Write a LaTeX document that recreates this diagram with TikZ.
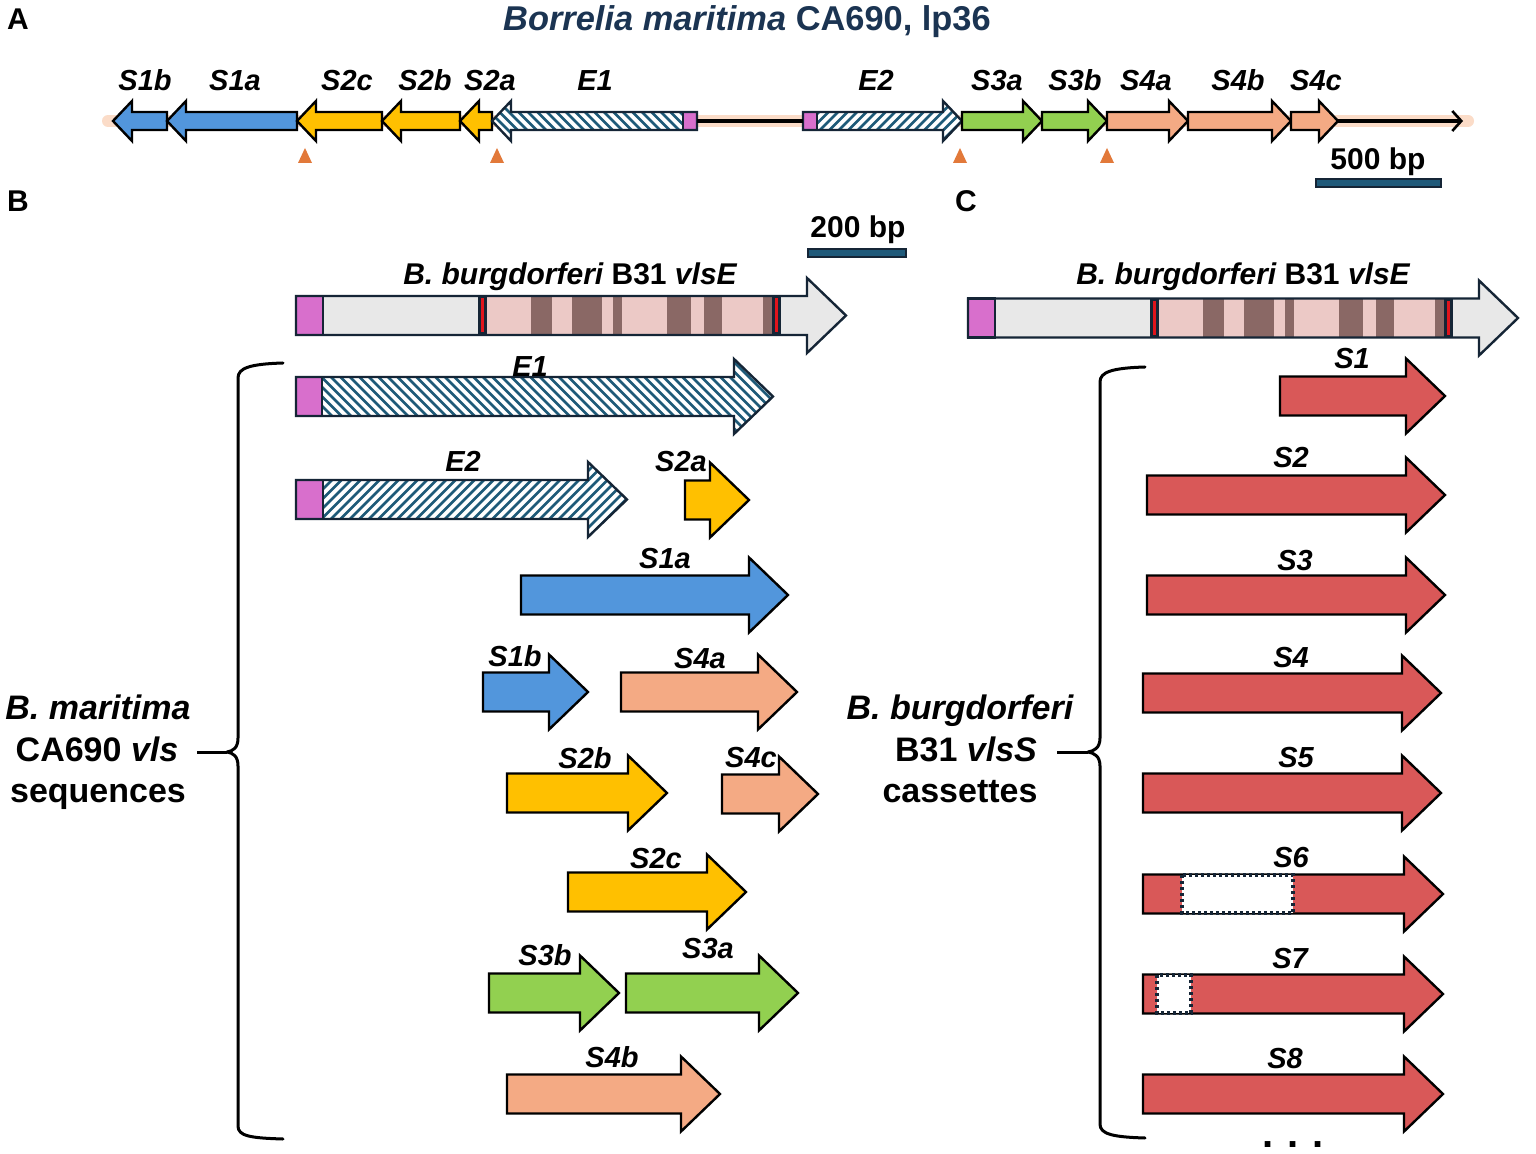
\documentclass[tikz,border=0pt]{standalone}
\usepackage{fontspec}
\setmainfont{Liberation Sans}
\usetikzlibrary{arrows.meta}
\definecolor{cblue}{HTML}{5296DC}
\definecolor{cyel}{HTML}{FFC000}
\definecolor{cgreen}{HTML}{92D050}
\definecolor{csalm}{HTML}{F4AA84}
\definecolor{cred}{HTML}{D95858}
\definecolor{cmag}{HTML}{D86FCC}
\definecolor{chatch}{HTML}{1E5A78}
\definecolor{cgrey}{HTML}{E8E8E8}
\definecolor{cpink}{HTML}{ECC9C6}
\definecolor{cband}{HTML}{8A6865}
\definecolor{credl}{HTML}{E0141C}
\definecolor{cnavy}{HTML}{152536}
\definecolor{ctitle}{HTML}{1B3452}
\definecolor{cbar}{HTML}{1F5A7A}
\definecolor{ctri}{HTML}{E2793A}
\definecolor{cglow}{HTML}{FBDCC8}
\tikzset{
 lab/.style={font=\fontsize{14.5}{17}\selectfont\bfseries\itshape, inner sep=0pt, anchor=base},
 laba/.style={font=\fontsize{14.5}{17}\selectfont\bfseries\itshape, inner sep=0pt, anchor=base},
 vlab/.style={font=\fontsize{15}{18}\selectfont\bfseries, inner sep=0pt, anchor=base},
 side/.style={font=\fontsize{17}{20}\selectfont\bfseries, inner sep=0pt, anchor=base},
 panel/.style={font=\fontsize{15}{18}\selectfont\bfseries, inner sep=0pt, anchor=base},
 scl/.style={font=\fontsize{15}{18}\selectfont\bfseries, inner sep=0pt, anchor=base},
 hatchline/.style={chatch, line width=1.3pt},
 bracestyle/.style={line width=1.5pt, line cap=round, line join=round},
 outl/.style={draw=black, line width=1.2pt, line join=miter},
 navyoutl/.style={draw=cnavy, line width=1.2pt, line join=miter},
 scalebar/.style={fill=cbar, draw=cnavy, line width=0.6pt},
 dotbox/.style={fill=white, draw=cnavy, line width=1.6pt, dash pattern=on 1.6pt off 1.4pt},
 backbone/.style={draw=black, line width=1.8pt},
}
% generic right / left pointing arrow paths
\newcommand\ArrR[7]{\path[#1] (#2,{#4-#5}) -- ({#3-#7},{#4-#5}) -- ({#3-#7},{#4-#6}) -- (#3,#4) -- ({#3-#7},{#4+#6}) -- ({#3-#7},{#4+#5}) -- (#2,{#4+#5}) -- cycle;}
\newcommand\ArrL[7]{\path[#1] (#3,{#4-#5}) -- ({#2+#7},{#4-#5}) -- ({#2+#7},{#4-#6}) -- (#2,#4) -- ({#2+#7},{#4+#6}) -- ({#2+#7},{#4+#5}) -- (#3,{#4+#5}) -- cycle;}
\newcommand\BR[4]{\ArrR{outl,fill=#1}{#2}{#3}{#4}{19.5}{37.5}{39}}
\newcommand\AR[4]{\ArrR{outl,fill=#1}{#2}{#3}{#4}{9}{20}{19}}
\newcommand\AL[4]{\ArrL{outl,fill=#1}{#2}{#3}{#4}{9}{20}{19}}
% hatched arrows: #1 direction (1 = \ , -1 = /), #2 xl, #3 xtip, #4 yc, #5 half body, #6 half head, #7 head length, #8 magenta width
\newcommand\HatchR[8]{%
 \begin{scope}
 \ArrR{clip}{#2}{#3}{#4}{#5}{#6}{#7}
 \fill[white] ({#2-5},{#4-#6-5}) rectangle ({#3+5},{#4+#6+5});
 \pgfmathtruncatemacro\nh{(#3-#2+100)/9.5}
 \foreach \k in {0,...,\nh} \draw[hatchline] ({#2-100+9.5*\k},{#4-50*(#1)}) -- ({#2+9.5*\k},{#4+50*(#1)});
 \end{scope}
 \draw[navyoutl,fill=cmag] (#2,{#4-#5}) rectangle ({#2+#8},{#4+#5});
 \ArrR{navyoutl}{#2}{#3}{#4}{#5}{#6}{#7}
}
\newcommand\HatchL[8]{%
 \begin{scope}
 \ArrL{clip}{#2}{#3}{#4}{#5}{#6}{#7}
 \fill[white] ({#2-5},{#4-#6-5}) rectangle ({#3+5},{#4+#6+5});
 \pgfmathtruncatemacro\nh{(#3-#2+100)/9.5}
 \foreach \k in {0,...,\nh} \draw[hatchline] ({#2-100+9.5*\k},{#4-50*(#1)}) -- ({#2+9.5*\k},{#4+50*(#1)});
 \end{scope}
 \draw[navyoutl,fill=cmag] ({#3-#8},{#4-#5}) rectangle (#3,{#4+#5});
 \ArrL{navyoutl}{#2}{#3}{#4}{#5}{#6}{#7}
}
% vlsE bar, centred at y = 0
\newcommand\vlsEbar{%
 \ArrR{fill=cgrey}{296}{846}{0}{19.5}{37.5}{39}
 \fill[cpink] (487,-19.5) rectangle (772,19.5);
 \foreach \a/\b in {531/552,572/602,613/622,667/691,704/722,763/772} \fill[cband] (\a,-19.5) rectangle (\b,19.5);
 \fill[cnavy] (478,-19.5) rectangle (487,19.5);
 \draw[credl, line width=1.2pt] (482.5,-17) -- (482.5,17);
 \fill[cnavy] (772,-19.5) rectangle (781,19.5);
 \draw[credl, line width=1.2pt] (776.5,-17) -- (776.5,17);
 \draw[navyoutl, fill=cmag] (296,-19.5) rectangle (323,19.5);
 \ArrR{navyoutl}{296}{846}{0}{19.5}{37.5}{39}
}
\begin{document}
\begin{tikzpicture}[x=0.5pt,y=-0.5pt]
\useasboundingbox[fill=white] (0,0) rectangle (1536,1154);

% ---------------- Panel A ----------------
\node[panel] (pA) at (18,30) {A};
\node[font=\fontsize{17.2}{20}\selectfont\bfseries, text=ctitle, inner sep=0pt, anchor=base] (title) at (747,31) {{\itshape Borrelia maritima} CA690, lp36};

\coordinate (glowL) at (108,121);
\coordinate (glowR) at (1468,121);
\draw[cglow, line width=6pt, line cap=round] (glowL) -- (glowR);
\coordinate (e1end) at (697,121);
\coordinate (e2start) at (803,121);
\coordinate (s4cend) at (1338,121);
\coordinate (lineend) at (1463,121);

\AL{cblue}{113}{167}{121}
\AL{cblue}{167}{297}{121}
\AL{cyel}{297}{382}{121}
\AL{cyel}{382}{460}{121}
\AL{cyel}{460}{492}{121}
\HatchL{1}{492}{697}{121}{9}{20}{19}{14}
\HatchR{-1}{803}{962}{121}{9}{20}{19}{14}
\AR{cgreen}{962}{1042}{121}
\AR{cgreen}{1042}{1107}{121}
\AR{csalm}{1107}{1188}{121}
\AR{csalm}{1188}{1291}{121}
\AR{csalm}{1291}{1338}{121}

\draw[backbone] (e1end) -- (e2start);
\draw[backbone, -{Straight Barb[length=4.5pt,width=10pt,line width=1.3pt]}] (s4cend) -- (lineend);

\foreach \t in {305,497,960,1107} \fill[ctri] ({\t-7},163) -- (\t,148) -- ({\t+7},163) -- cycle;

\node[laba] (aS1b) at (145,91) {S1b};
\node[laba] (aS1a) at (235,91) {S1a};
\node[laba] (aS2c) at (347,91) {S2c};
\node[laba] (aS2b) at (425,91) {S2b};
\node[laba] (aS2a) at (490,91) {S2a};
\node[laba] (aE1) at (595,91) {E1};
\node[laba] (aE2) at (876,91) {E2};
\node[laba] (aS3a) at (997,91) {S3a};
\node[laba] (aS3b) at (1075,91) {S3b};
\node[laba] (aS4a) at (1146,91) {S4a};
\node[laba] (aS4b) at (1238,91) {S4b};
\node[laba] (aS4c) at (1316,91) {S4c};

\node[scl] (s500) at (1378,170) {500 bp};
\draw[scalebar] (1316,179) rectangle (1441,187);

% ---------------- Panel B ----------------
\node[panel] (pB) at (18,212) {B};
\node[scl] (s200) at (858,238) {200 bp};
\draw[scalebar] (808,249) rectangle (906,257);

\begin{scope}[shift={(0,315.5)}]
\vlsEbar
\end{scope}
\node[vlab] (bvls) at (570,285) {{\itshape B. burgdorferi} B31 {\itshape vlsE}};

\HatchR{1}{296}{773}{396.5}{19.5}{37.5}{39}{26}
\HatchR{-1}{296}{627}{499.5}{19.5}{37.5}{39}{27}
\BR{cyel}{685}{749}{500}
\BR{cblue}{521}{788}{595}
\BR{cblue}{483}{588}{692}
\BR{csalm}{621}{797}{692}
\BR{cyel}{507}{667}{793}
\BR{csalm}{722}{818}{794}
\BR{cyel}{568}{746}{892}
\BR{cgreen}{489}{619}{993}
\BR{cgreen}{626}{798}{993}
\BR{csalm}{507}{720}{1094}

\node[lab] (bE1) at (530,377) {E1};
\node[lab] (bE2) at (463,472) {E2};
\node[lab] (bS2a) at (681,472) {S2a};
\node[lab] (bS1a) at (665,568) {S1a};
\node[lab] (bS1b) at (515,666) {S1b};
\node[lab] (bS4a) at (700,668) {S4a};
\node[lab] (bS2b) at (585,768) {S2b};
\node[lab] (bS4c) at (751,767) {S4c};
\node[lab] (bS2c) at (656,868) {S2c};
\node[lab] (bS3b) at (545,965) {S3b};
\node[lab] (bS3a) at (708,958) {S3a};
\node[lab] (bS4b) at (612,1067) {S4b};

\node[side] (sl1) at (98,719) {\itshape B. maritima};
\node[side] (sl2) at (97,761) {CA690 {\itshape vls}};
\node[side] (sl3) at (98,802) {sequences};
\coordinate (braceLtip) at (227,752);
\coordinate (lineLs) at (197,752);
\draw[line width=1.5pt] (lineLs) -- (braceLtip);
\draw[bracestyle] (283,363) .. controls (250,364) and (238,368) .. (238,378) -- (238,738) .. controls (238,748) and (233,751) .. (braceLtip) .. controls (233,753) and (238,756) .. (238,766) -- (238,1126) .. controls (238,1136) and (250,1138) .. (283,1139);

% ---------------- Panel C ----------------
\node[panel] (pC) at (966,212) {C};
\begin{scope}[shift={(672,318)}]
\vlsEbar
\end{scope}
\node[vlab] (cvls) at (1243,285) {{\itshape B. burgdorferi} B31 {\itshape vlsE}};

\BR{cred}{1280}{1445}{396}
\BR{cred}{1147}{1445}{495}
\BR{cred}{1147}{1445}{595}
\BR{cred}{1143}{1441}{693}
\BR{cred}{1143}{1441}{793}
\BR{cred}{1143}{1443}{894}
\draw[dotbox] (1182,875) rectangle (1293,913);
\BR{cred}{1143}{1443}{994}
\draw[dotbox] (1157,975) rectangle (1191,1013);
\BR{cred}{1143}{1443}{1094}

\node[lab] (cS1) at (1352,369) {S1};
\node[lab] (cS2) at (1291,468) {S2};
\node[lab] (cS3) at (1295,571) {S3};
\node[lab] (cS4) at (1291,667) {S4};
\node[lab] (cS5) at (1296,767) {S5};
\node[lab] (cS6) at (1291,867) {S6};
\node[lab] (cS7) at (1290,968) {S7};
\node[lab] (cS8) at (1285,1068) {S8};
\node[font=\fontsize{20}{20}\selectfont\bfseries, inner sep=0pt, anchor=base] (dots) at (1293,1147) {.\hspace{7pt}.\hspace{7pt}.};

\node[side] (sr1) at (960,719) {\itshape B. burgdorferi};
\node[side] (sr2) at (966,761) {B31 {\itshape vlsS}};
\node[side] (sr3) at (960,802) {cassettes};
\coordinate (braceRtip) at (1088,752);
\coordinate (lineRs) at (1057,752);
\draw[line width=1.5pt] (lineRs) -- (braceRtip);
\draw[bracestyle] (1145,367) .. controls (1112,368) and (1100,372) .. (1100,382) -- (1100,738) .. controls (1100,748) and (1094,751) .. (braceRtip) .. controls (1094,753) and (1100,756) .. (1100,766) -- (1100,1124) .. controls (1100,1134) and (1112,1137) .. (1145,1138);
\end{tikzpicture}
\end{document}
